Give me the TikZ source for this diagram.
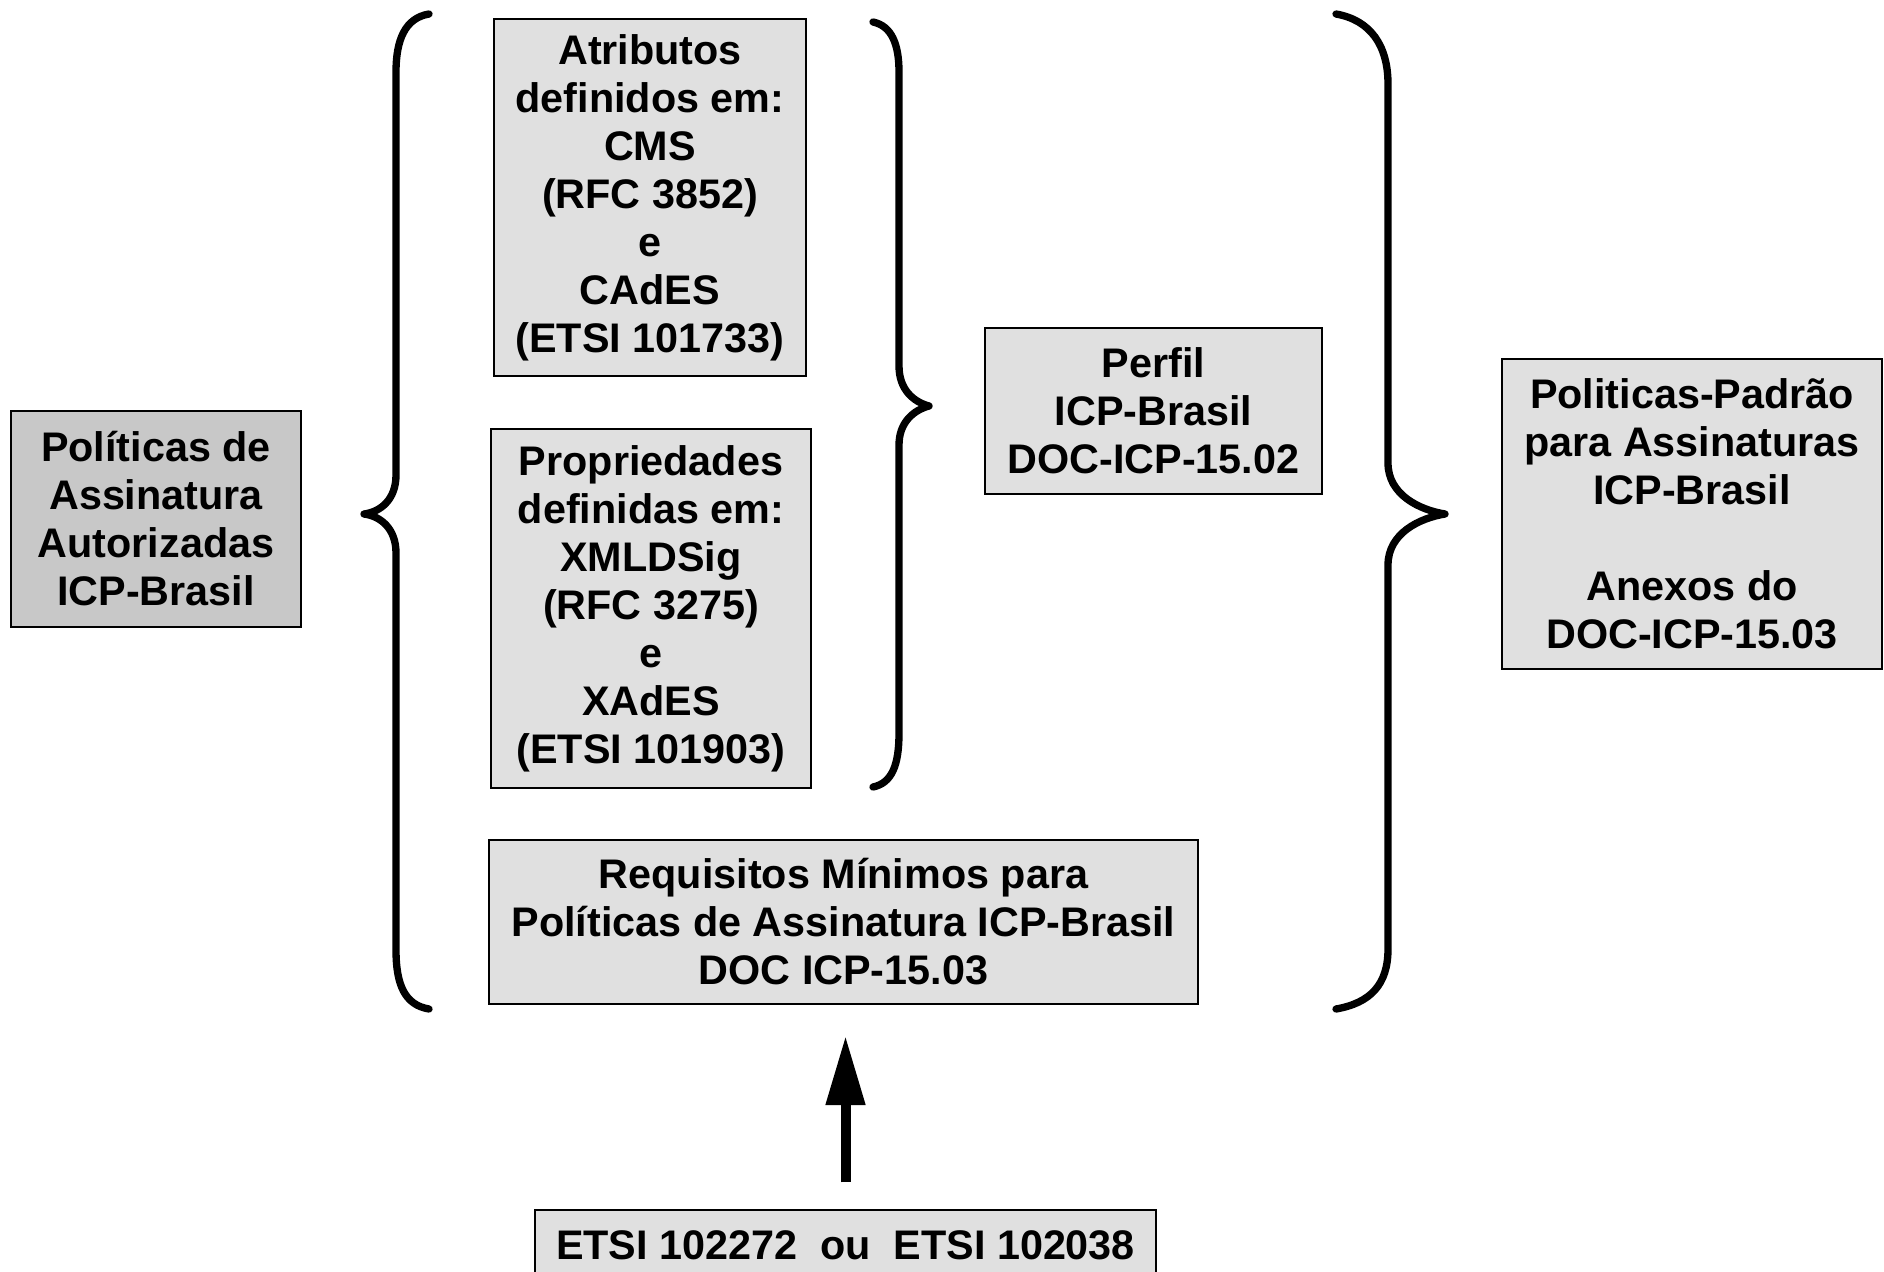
\documentclass[tikz,border=0pt]{standalone}
\usepackage{fontspec}
\setmainfont{Liberation Sans}
\usetikzlibrary{arrows.meta, positioning}

\begin{document}
\begin{tikzpicture}[x=0.75pt,y=0.75pt,yscale=-1,xscale=1,
  box/.style={draw, line width=1.5pt, fill={rgb, 255:red, 224; green, 224; blue, 224}, align=center, inner sep=0pt, font=\fontsize{31}{36}\selectfont\bfseries},
  darkbox/.style={box, fill={rgb, 255:red, 200; green, 200; blue, 200}},
  brace/.style={line width=5.5pt, line cap=round, line join=round},
  bigarrow/.style={line width=7.5pt, -{Triangle[length=52pt,width=28pt]}}]
\useasboundingbox (0,0) rectangle (1884,1271);

% Text Node
\node[darkbox, minimum width=217.5pt, minimum height=162pt] (polaut) at (156,519) {Políticas de\\Assinatura\\Autorizadas\\ICP-Brasil};
% Text Node
\node[box, minimum width=234pt, minimum height=267.75pt] (atrib) at (650,197.5) {Atributos\\definidos em:\\CMS\\(RFC 3852)\\e\\CAdES\\(ETSI 101733)};
% Text Node
\node[box, minimum width=240pt, minimum height=269.25pt] (prop) at (651,608.5) {Propriedades\\definidas em:\\XMLDSig\\(RFC 3275)\\e\\XAdES\\(ETSI 101903)};
% Text Node
\node[box, minimum width=252.75pt, minimum height=124.5pt] (perfil) at (1153.5,411) {Perfil\\ICP-Brasil\\DOC-ICP-15.02};
% Text Node
\node[box, minimum width=285pt, minimum height=232.5pt] (padrao) at (1692,514) {Politicas-Padrão\\para Assinaturas\\ICP-Brasil\\[36pt]Anexos do\\DOC-ICP-15.03};
% Text Node
\node[box, minimum width=531.75pt, minimum height=123pt] (req) at (843.5,922) {Requisitos Mínimos para\\Políticas de Assinatura ICP-Brasil\\DOC ICP-15.03};
% Text Node
\node[box, minimum width=465.75pt, minimum height=52.5pt] (etsi) at (845.5,1245) {ETSI 102272\ \ ou\ \ ETSI 102038};

%Curve Lines (left brace)
\draw[brace] (429,14) .. controls (405,18) and (396,40) .. (396,72) -- (396,475) .. controls (396,500) and (380,512) .. (364,514) .. controls (380,516) and (396,528) .. (396,553) -- (396,950) .. controls (396,985) and (405,1005) .. (429,1009);
%Curve Lines (middle brace)
\draw[brace] (873,22) .. controls (892,26) and (899,45) .. (899,72) -- (899,366) .. controls (899,390) and (914,402) .. (929,406) .. controls (914,410) and (899,422) .. (899,445) -- (899,733) .. controls (899,765) and (892,783) .. (873,787);
%Curve Lines (right brace)
\draw[brace] (1336,14) .. controls (1370,20) and (1388,45) .. (1388,84) -- (1388,463) .. controls (1388,495) and (1420,510) .. (1445,514) .. controls (1420,518) and (1388,533) .. (1388,565) -- (1388,949) .. controls (1388,985) and (1370,1003) .. (1336,1009);

%Straight Lines
\draw[bigarrow, shorten <=20pt, shorten >=23pt] (etsi.north) -- (etsi.north |- req.south);

\end{tikzpicture}
\end{document}
